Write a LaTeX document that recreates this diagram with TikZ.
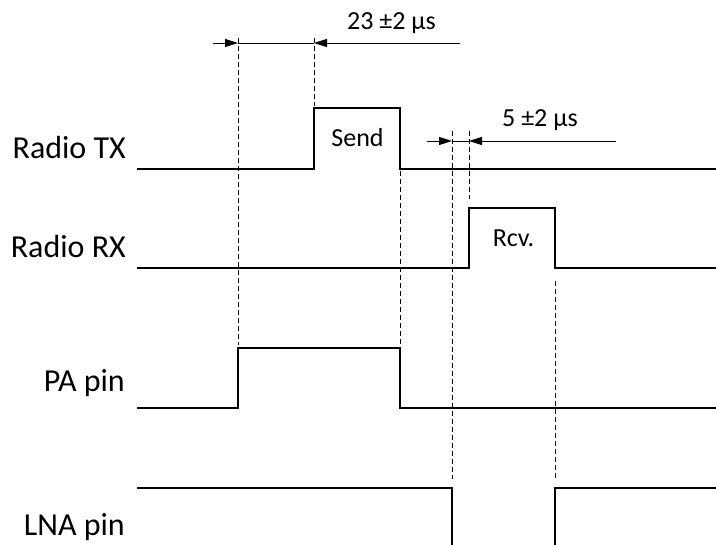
\documentclass[tikz,border=0pt]{standalone}
\usepackage{fontspec}
\setmainfont{Carlito}
\usetikzlibrary{arrows.meta}
\begin{document}
\begin{tikzpicture}[x=1pt,y=-1pt,
  sig/.style={line width=2pt,line join=miter},
  guide/.style={line width=0.9pt,dash pattern=on 5pt off 3pt},
  dim/.style={line width=0.9pt},
  tip/.style={-{Triangle[length=13pt,width=8pt]}},
  lbl/.style={anchor=base east,inner sep=0pt,font=\fontsize{32}{38}\selectfont},
  small/.style={anchor=base,inner sep=0pt,font=\fontsize{26}{31}\selectfont},
  dimtxt/.style={anchor=base,inner sep=0pt,font=\fontsize{26}{31}\selectfont}]
\useasboundingbox (0,0) rectangle (716,545);
% labels
\node[lbl] (ltx) at (126,159) {Radio TX};
\node[lbl] (lrx) at (126,258) {Radio RX};
\node[lbl] (lpa) at (125,392) {PA pin};
\node[lbl] (llna) at (125,536) {LNA pin};
% signals
\draw[sig] (137,169) -- (314,169) -- (314,108) -- (400,108) -- (400,169) -- (716,169);
\node[small] (send) at (357.5,147) {Send};
\draw[sig] (137,268) -- (469,268) -- (469,208) -- (555,208) -- (555,268) -- (716,268);
\node[small] (rcv) at (513.5,247) {Rcv.};
\draw[sig] (137,408) -- (238,408) -- (238,348) -- (400,348) -- (400,408) -- (716,408);
\draw[sig] (137,488) -- (452,488) -- (452,546);
\draw[sig] (555,546) -- (555,488) -- (716,488);
% guides
\coordinate (g1t) at (238,38); \coordinate (g1b) at (238,345);
\coordinate (g2t) at (314,38); \coordinate (g2b) at (314,106);
\coordinate (g3t) at (400,171); \coordinate (g3b) at (400,345);
\coordinate (g4t) at (452,131); \coordinate (g4b) at (452,479);
\coordinate (g5t) at (469,131); \coordinate (g5b) at (469,199);
\coordinate (g6t) at (555,281); \coordinate (g6b) at (555,479);
\draw[guide] (g1t) -- (g1b);
\draw[guide] (g2t) -- (g2b);
\draw[guide] (g3t) -- (g3b);
\draw[guide] (g4t) -- (g4b);
\draw[guide] (g5t) -- (g5b);
\draw[guide] (g6t) -- (g6b);
% dimension 1
\coordinate (d1a) at (213,43); \coordinate (d1b) at (238,43);
\coordinate (d1c) at (314,43); \coordinate (d1d) at (460,43);
\draw[dim,tip] (d1a) -- (d1b);
\draw[dim] (d1b) -- (d1c);
\draw[dim,tip] (d1d) -- (d1c);
\node[dimtxt] (t1) at (391.5,30) {23 ±2 µs};
% dimension 2
\coordinate (d2a) at (427,141); \coordinate (d2b) at (452,141);
\coordinate (d2c) at (469,141); \coordinate (d2d) at (616,141);
\draw[dim,tip] (d2a) -- (d2b);
\draw[dim] (d2b) -- (d2c);
\draw[dim,tip] (d2d) -- (d2c);
\node[dimtxt] (t2) at (540,127) {5 ±2 µs};
\end{tikzpicture}
\end{document}
